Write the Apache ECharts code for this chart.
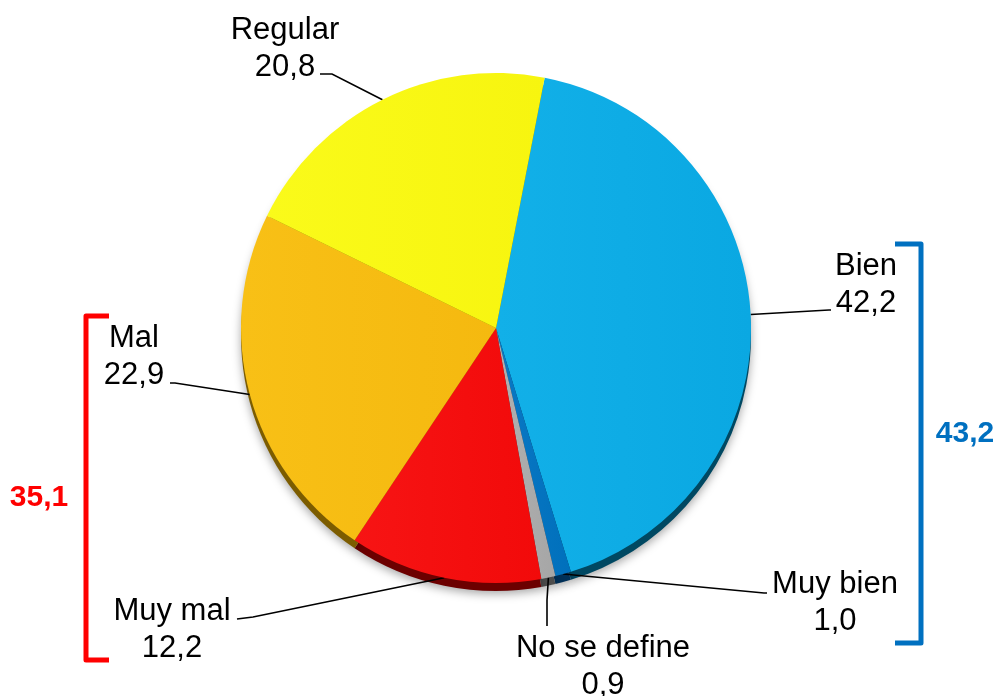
<!DOCTYPE html>
<html><head><meta charset="utf-8">
<script src="https://cdn.jsdelivr.net/npm/echarts@6/dist/echarts.min.js"></script>
<style>html,body{margin:0;padding:0;background:#fff}#c{width:1003px;height:696px}</style>
</head><body><div id="c"></div>
<script>
// ---- data ----
const categories = ['Bien', 'Muy bien', 'No se define', 'Muy mal', 'Mal', 'Regular'];
const values = [42.2, 1.0, 0.9, 12.2, 22.9, 20.8];
const positiveGroup = ['Bien', 'Muy bien'];
const negativeGroup = ['Mal', 'Muy mal'];

// ---- styles ----
const sliceColors = ['#0AA8E2', '#0070BC', '#A6A6A6', '#F20A0A', '#F5B90F', '#F7F50F'];
const sliceLight  = ['#12B0E8', '#0A78C4', '#B0B0B0', '#F71414', '#F8C016', '#FAFA1A'];
const edgeColors  = ['#004862', '#003058', '#4C4C4C', '#6C0000', '#7C5C00', '#7C7A00'];

// label text centre, elbow and end of leader line (layout only)
const labelLayoutMap = {
  'Bien':         { x: 866, y: 285, elbow: [829, 310], end: [831, 310] },
  'Muy bien':     { x: 835, y: 603, elbow: [764, 593], end: [767, 593] },
  'No se define': { x: 603, y: 667, elbow: [547, 600], end: [547, 626] },
  'Muy mal':      { x: 172, y: 630, elbow: [253, 617], end: [237, 619] },
  'Mal':          { x: 134, y: 357, elbow: [175, 383], end: [170, 383] },
  'Regular':      { x: 285, y: 49,  elbow: [332, 74],  end: [320, 74] }
};

const fmt = v => v.toFixed(1).replace('.', ',');
const sumOf = names => names.reduce((s, n) => s + values[categories.indexOf(n)], 0);

const FONT = "'Liberation Sans', Arial, sans-serif";
const CENTER = [496, 328];
const RADIUS = 255;
const START = 79;

const chart = echarts.init(document.getElementById('c'), null, { renderer: 'canvas' });

const mainData = categories.map((n, i) => ({
  name: n, value: values[i],
  itemStyle: {
    color: { type: 'linear', x: 0, y: 0, x2: 1, y2: 0,
      colorStops: [{ offset: 0, color: sliceLight[i] }, { offset: 1, color: sliceColors[i] }] }
  }
}));
const edgeData = categories.map((n, i) => ({
  name: n, value: values[i], itemStyle: { color: edgeColors[i] }
}));

chart.setOption({
  animation: false,
  backgroundColor: '#ffffff',
  series: [
    {
      type: 'pie', silent: true, z: 1,
      center: [CENTER[0], CENTER[1] + 8], radius: RADIUS,
      startAngle: START, clockwise: true,
      label: { show: false }, labelLine: { show: false },
      itemStyle: { borderWidth: 0, shadowBlur: 10, shadowColor: 'rgba(0,0,0,0.35)', shadowOffsetY: 3 },
      data: edgeData
    },
    {
      type: 'pie', z: 2,
      center: CENTER, radius: RADIUS,
      startAngle: START, clockwise: true,
      avoidLabelOverlap: false,
      itemStyle: { borderWidth: 0 },
      label: {
        show: true, position: 'outside',
        formatter: p => p.name + '\n' + fmt(p.value),
        fontFamily: FONT, fontSize: 31, lineHeight: 37, color: '#000', align: 'center'
      },
      labelLine: { show: true, length: 20, length2: 10, lineStyle: { color: '#000', width: 1.6 } },
      labelLayout: function (params) {
        const name = categories[params.dataIndex];
        const L = labelLayoutMap[name];
        const out = { x: L.x, y: L.y, align: 'center', verticalAlign: 'middle' };
        if (params.labelLinePoints && params.labelLinePoints.length) {
          out.labelLinePoints = [params.labelLinePoints[0], L.elbow, L.end];
        }
        return out;
      },
      emphasis: { disabled: true },
      data: mainData
    }
  ],
  graphic: [
    { type: 'polyline', z: 10,
      shape: { points: [[109, 316], [86, 316], [86, 660], [109, 660]] },
      style: { stroke: '#FF0000', lineWidth: 5, fill: null, lineJoin: 'round', lineCap: 'butt' } },
    { type: 'polyline', z: 10,
      shape: { points: [[895, 244], [921, 244], [921, 643], [895, 643]] },
      style: { stroke: '#0070C0', lineWidth: 5, fill: null, lineJoin: 'round', lineCap: 'butt' } },
    { type: 'text', z: 10, x: 39, y: 498,
      style: { text: fmt(sumOf(negativeGroup)), fill: '#FF0000', font: 'bold 30px ' + FONT,
        align: 'center', verticalAlign: 'middle' } },
    { type: 'text', z: 10, x: 965, y: 434,
      style: { text: fmt(sumOf(positiveGroup)), fill: '#0070C0', font: 'bold 30px ' + FONT,
        align: 'center', verticalAlign: 'middle' } }
  ]
});
</script>
</body></html>
